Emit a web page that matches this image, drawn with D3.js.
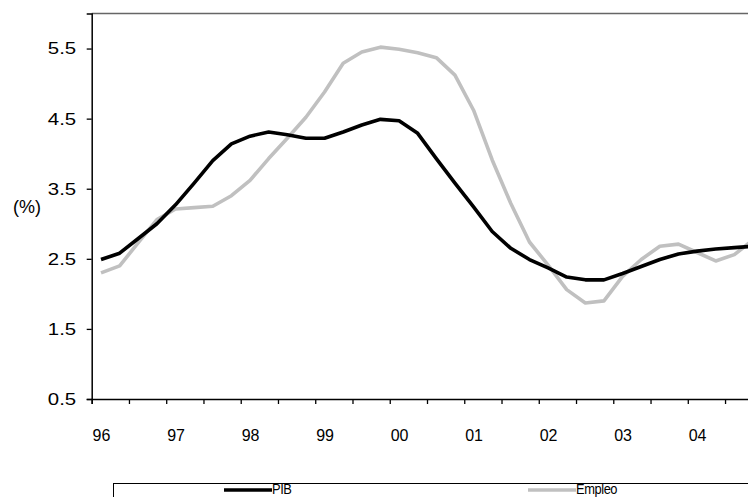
<!DOCTYPE html>
<html>
<head>
<meta charset="utf-8">
<script src="https://cdn.jsdelivr.net/npm/d3@7"></script>
<style>
  html, body { margin: 0; padding: 0; background: #fff; overflow: hidden; }
  svg { display: block; font-family: "Liberation Sans", Arial, sans-serif; }
</style>
</head>
<body>
<svg id="chart" width="748" height="497"></svg>
<script>
// Quarterly growth rates, 1996 Q1 – 2004 Q4 (%)
const years = ["96", "97", "98", "99", "00", "01", "02", "03", "04"];
const quarters = years.flatMap(y => ["T1", "T2", "T3", "T4"].map(q => y + q));

const pib = [
  2.49, 2.58, 2.79, 3.00, 3.27, 3.58, 3.90, 4.14,
  4.25, 4.31, 4.27, 4.22, 4.22, 4.31, 4.41, 4.49,
  4.47, 4.29, 3.93, 3.58, 3.24, 2.89, 2.65, 2.49,
  2.37, 2.24, 2.20, 2.20, 2.29, 2.39, 2.49, 2.57,
  2.61, 2.64, 2.66, 2.68
];
const empleo = [
  2.30, 2.40, 2.73, 3.06, 3.21, 3.23, 3.25, 3.40,
  3.62, 3.93, 4.22, 4.52, 4.88, 5.29, 5.45, 5.52,
  5.49, 5.44, 5.37, 5.12, 4.62, 3.91, 3.29, 2.74,
  2.41, 2.06, 1.87, 1.90, 2.25, 2.49, 2.68, 2.71,
  2.59, 2.47, 2.56, 2.77
];
const yTicks = [0.5, 1.5, 2.5, 3.5, 4.5, 5.5];
const seriesNames = ["PIB", "Empleo"];
const seriesColors = ["#000000", "#c0c0c0"];

const svg = d3.select("#chart");
const plotLeft = 91.7, plotRight = 762.3, plotTop = 13.5, plotBottom = 399;

const x = d3.scaleLinear().domain([0, quarters.length]).range([plotLeft, plotRight]);
const y = d3.scaleLinear().domain([0.5, 6.0]).range([plotBottom, plotTop]);

// frame: top border
svg.append("line")
  .attr("x1", plotLeft).attr("x2", plotRight)
  .attr("y1", plotTop).attr("y2", plotTop)
  .attr("stroke", "#666").attr("stroke-width", 1.5);

// series lines (Empleo underneath PIB)
const line = d3.line()
  .x((d, i) => x(i + 0.5))
  .y(d => y(d))
  .curve(d3.curveLinear);

[[empleo, seriesColors[1]], [pib, seriesColors[0]]].forEach(([s, c]) => {
  svg.append("path")
    .datum(s)
    .attr("fill", "none")
    .attr("stroke", c)
    .attr("stroke-width", 3.6)
    .attr("stroke-linejoin", "round")
    .attr("d", line);
});

// y axis
const yAxis = svg.append("g")
  .attr("transform", `translate(${plotLeft},0)`)
  .call(d3.axisLeft(y).tickValues(yTicks).tickSize(5).tickPadding(0)
    .tickFormat(d3.format(".1f")));
yAxis.select(".domain").attr("stroke", "#000").attr("stroke-width", 1.5);
yAxis.selectAll(".tick line").attr("stroke", "#000").attr("stroke-width", 1.3);
yAxis.selectAll("text")
  .attr("x", null)
  .attr("transform", "translate(-15.5,0) scale(1.2,1)")
  .attr("font-size", 17).attr("fill", "#000")
  .attr("font-family", "'Liberation Sans', Arial, sans-serif");

// x axis: ticks every half year
const xAxis = svg.append("g")
  .attr("transform", `translate(0,${plotBottom})`)
  .call(d3.axisBottom(x).tickValues(d3.range(0, quarters.length + 1, 2))
    .tickSize(5).tickFormat(""));
xAxis.select(".domain").attr("stroke", "#000").attr("stroke-width", 1.5);
xAxis.selectAll(".tick line").attr("stroke", "#000").attr("stroke-width", 1.3);

// year labels under the first quarter of each year
const xLabels = svg.append("g")
  .attr("transform", `translate(0,${plotBottom})`)
  .call(d3.axisBottom(x).tickValues(years.map((yr, i) => i * 4 + 0.5))
    .tickSize(0).tickPadding(31).tickFormat((d, i) => years[i]));
xLabels.select(".domain").remove();
xLabels.selectAll("text").attr("font-size", 16).attr("fill", "#000")
  .attr("font-family", "'Liberation Sans', Arial, sans-serif");

// unit label
svg.append("text")
  .attr("x", 27).attr("y", 213)
  .attr("text-anchor", "middle")
  .attr("font-size", 18)
  .text("(%)");

// legend
const legend = svg.append("g");
legend.append("rect")
  .attr("x", 113.5).attr("y", 483.5)
  .attr("width", 660).attr("height", 40)
  .attr("fill", "#fff").attr("stroke", "#000").attr("stroke-width", 1);

const legendItems = [
  { name: seriesNames[0], color: seriesColors[0], x0: 224 },
  { name: seriesNames[1], color: seriesColors[1], x0: 528 }
];
legendItems.forEach(it => {
  legend.append("line")
    .attr("x1", it.x0).attr("x2", it.x0 + 48)
    .attr("y1", 490).attr("y2", 490)
    .attr("stroke", it.color).attr("stroke-width", 3.6);
  legend.append("text")
    .attr("transform", `translate(${it.x0 + 48},494) scale(0.86,1)`)
    .attr("font-size", 15)
    .attr("letter-spacing", -0.5)
    .text(it.name);
});
</script>
</body>
</html>
